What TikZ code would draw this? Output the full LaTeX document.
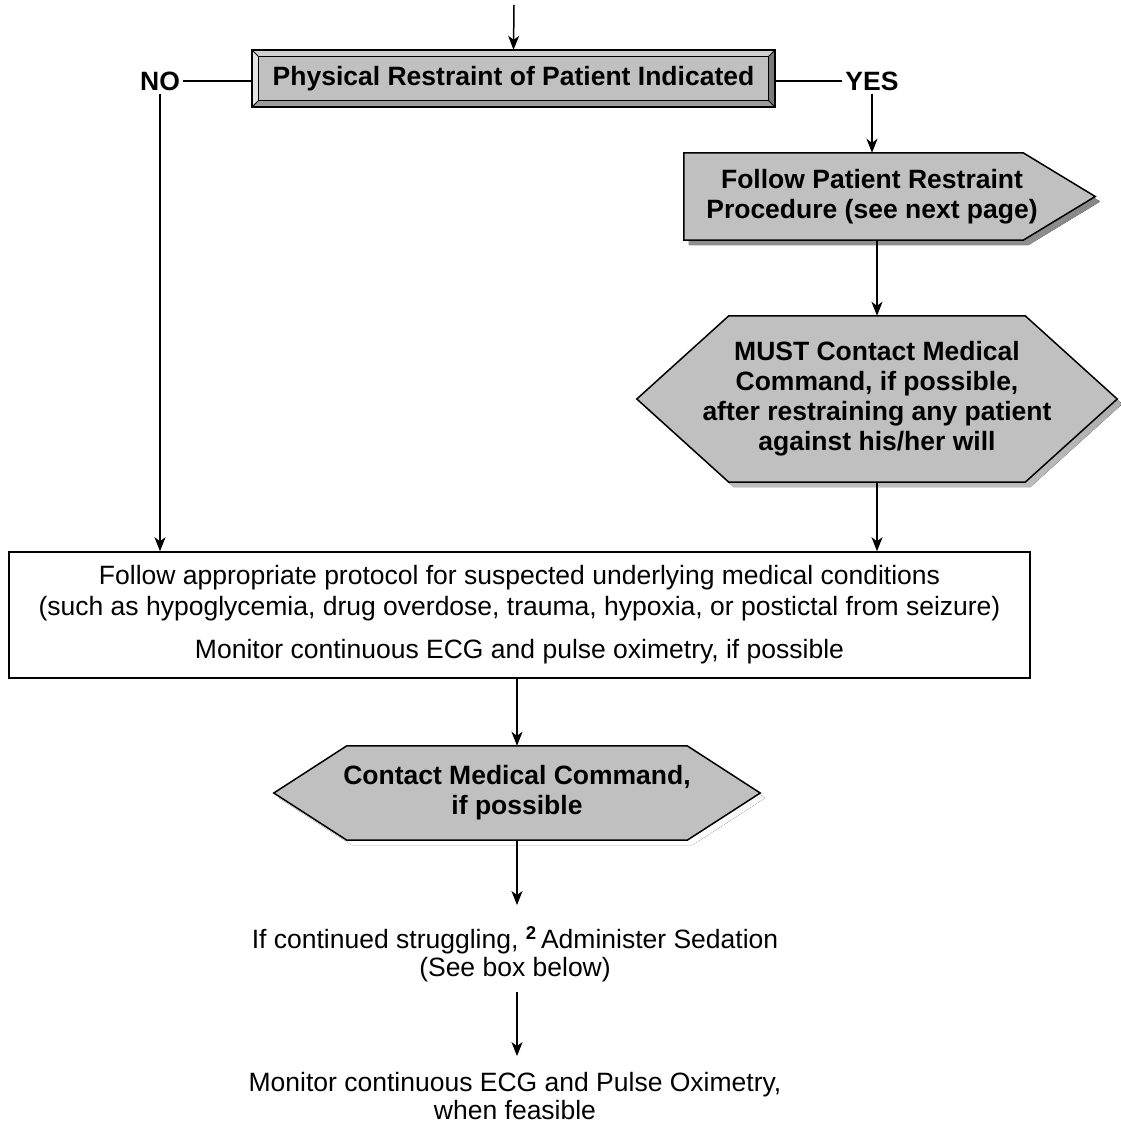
\documentclass[tikz,border=0pt]{standalone}
\usepackage{fontspec}
\setmainfont{Liberation Sans}
\usetikzlibrary{arrows.meta,backgrounds}
\definecolor{silver}{HTML}{C0C0C0}
\definecolor{shade}{HTML}{808080}
\definecolor{bevlight}{HTML}{E4E4E4}
\definecolor{bevtop}{HTML}{D0D0D0}
\definecolor{bevdark}{HTML}{7A7A7A}
\definecolor{bevbot}{HTML}{9C9C9C}
\newcommand\flowtxt{\fontsize{26.5}{30}\selectfont}
\newcommand\flownote{\fontsize{26.5}{28}\selectfont}
\newcommand\hexpath[2]{(#1.west) -- ([xshift=#2pt]#1.north west) -- ([xshift=-#2pt]#1.north east) -- (#1.east) -- ([xshift=-#2pt]#1.south east) -- ([xshift=#2pt]#1.south west) -- cycle}
\newcommand\arrowpath[3]{(#1.north west) -- ([xshift=-#2pt]#1.north east) -- ([xshift=#3pt]#1.east) -- ([xshift=-#2pt]#1.south east) -- (#1.south west) -- cycle}

\begin{document}
\begin{tikzpicture}[
  x=1pt, y=-1pt,
  shp/.style={inner sep=0pt, align=center, font=\bfseries\flowtxt},
  box/.style={draw, line width=1.5pt, fill=white, align=center, font=\fontsize{26.5}{31}\selectfont},
  lbl/.style={font=\bfseries\flowtxt},
  txt/.style={align=center, font=\flownote, inner sep=10pt},
  arr/.style={-{Stealth[length=14pt,width=11pt,inset=4pt]}, line width=1.5pt},
  ln/.style={line width=1.5pt}
]
\useasboundingbox (0,0) rectangle (1120,1124);
\coordinate (top) at (514,5);
\node[shp, minimum width=523pt, minimum height=57pt] (title) at (513.5,78.5) {Physical Restraint of Patient Indicated};
\node[lbl] (no) at (160,81) {NO};
\node[lbl] (yes) at (872,81) {YES};
\node[shp, minimum width=376pt, minimum height=87pt] (follow) at (872,196.5) {Follow Patient Restraint\\Procedure (see next page)};
\node[shp, minimum width=480pt, minimum height=166pt] (hexa) at (877,399) {MUST Contact Medical\\Command, if possible,\\after restraining any patient\\against his/her will};
\node[box, minimum width=1021pt, minimum height=126pt] (cond) at (519.5,615) {Follow appropriate protocol for suspected underlying medical conditions\\(such as hypoglycemia, drug overdose, trauma, hypoxia, or postictal from seizure)\\[12pt]Monitor continuous ECG and pulse oximetry, if possible};
\node[shp, minimum width=486pt, minimum height=94pt] (hexb) at (517,793) {Contact Medical Command,\\if possible};
\node[txt] (sed) at (515,954) {If continued struggling, \textsuperscript{\textbf{2}}\,Administer Sedation\\(See box below)};
\node[txt] (mon) at (515,1096) {Monitor continuous ECG and Pulse Oximetry,\\when feasible};

\begin{scope}[on background layer]
  \fill[shade, transform canvas={xshift=5pt,yshift=-5pt}] \arrowpath{follow}{37}{35} \hexpath{hexa}{92} \hexpath{hexb}{73};
  \filldraw[fill=silver, line width=1.5pt] \arrowpath{follow}{37}{35};
  \filldraw[fill=silver, line width=1.5pt] \hexpath{hexa}{92};
  \filldraw[fill=silver, line width=1.5pt] \hexpath{hexb}{73};
  \coordinate (ti1) at ([shift={(7,7)}]title.north west);
  \coordinate (ti2) at ([shift={(-7,7)}]title.north east);
  \coordinate (ti3) at ([shift={(-7,-7)}]title.south east);
  \coordinate (ti4) at ([shift={(7,-7)}]title.south west);
  \fill[bevtop] (title.north west) -- (title.north east) -- (ti2) -- (ti1) -- cycle;
  \fill[bevlight] (title.north west) -- (ti1) -- (ti4) -- (title.south west) -- cycle;
  \fill[bevdark] (title.north east) -- (title.south east) -- (ti3) -- (ti2) -- cycle;
  \fill[bevbot] (title.south west) -- (ti4) -- (ti3) -- (title.south east) -- cycle;
  \filldraw[fill=silver, line width=1pt] (ti1) rectangle (ti3);
  \draw[line width=1pt] (title.north west) -- (ti1) (title.north east) -- (ti2) (title.south east) -- (ti3) (title.south west) -- (ti4);
  \draw[line width=1.5pt] (title.north west) rectangle (title.south east);
\end{scope}

\draw[arr] (top) -- (title.north);
\draw[ln] (no.east) -- (no.east -| title.west);
\draw[ln] (title.east |- yes.west) -- (yes.west);
\draw[arr] (no.south) -- (no.south |- cond.north);
\draw[arr] (yes.south) -- (follow.north);
\draw[arr] (hexa.north |- follow.south) -- (hexa.north);
\draw[arr] (hexa.south) -- (hexa.south |- cond.north);
\draw[arr] (cond.south -| hexb.north) -- (hexb.north);
\draw[arr] (hexb.south) -- ([yshift=11pt]hexb.south |- sed.north);
\draw[arr] (hexb.south |- sed.south) -- ([yshift=6pt]hexb.south |- mon.north);
\end{tikzpicture}
\end{document}
